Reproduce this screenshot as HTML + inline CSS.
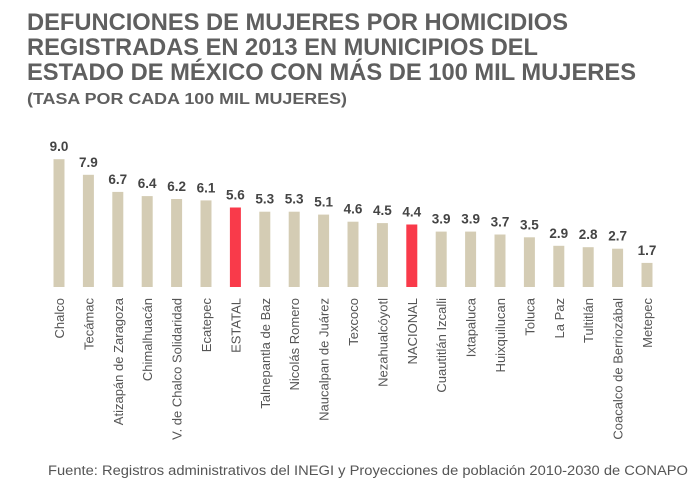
<!DOCTYPE html>
<html><head><meta charset="utf-8"><style>
body{margin:0;background:#fff;}
svg{display:block;font-family:"Liberation Sans",sans-serif;}
</style></head><body>
<svg width="700" height="499" viewBox="0 0 700 499" xmlns="http://www.w3.org/2000/svg">
<g fill="#5f5f5f" font-weight="bold">
<text x="27" y="30" font-size="24" textLength="541" lengthAdjust="spacingAndGlyphs">DEFUNCIONES DE MUJERES POR HOMICIDIOS</text>
<text x="27" y="55" font-size="24" textLength="511" lengthAdjust="spacingAndGlyphs">REGISTRADAS EN 2013 EN MUNICIPIOS DEL</text>
<text x="27" y="80" font-size="24" textLength="609" lengthAdjust="spacingAndGlyphs">ESTADO DE MÉXICO CON MÁS DE 100 MIL MUJERES</text>
<text x="27" y="104" font-size="16" textLength="320" lengthAdjust="spacingAndGlyphs">(TASA POR CADA 100 MIL MUJERES)</text>
</g>
<g fill="#d4ccb4">
<rect x="53.5" y="159.2" width="11" height="127.8"/>
<rect x="82.9" y="174.8" width="11" height="112.2"/>
<rect x="112.3" y="191.9" width="11" height="95.1"/>
<rect x="141.7" y="196.1" width="11" height="90.9"/>
<rect x="171.1" y="199" width="11" height="88"/>
<rect x="200.5" y="200.4" width="11" height="86.6"/>
<rect x="229.9" y="207.5" width="11" height="79.5" fill="#f93a4a"/>
<rect x="259.3" y="211.7" width="11" height="75.3"/>
<rect x="288.7" y="211.7" width="11" height="75.3"/>
<rect x="318.1" y="214.6" width="11" height="72.4"/>
<rect x="347.5" y="221.7" width="11" height="65.3"/>
<rect x="376.9" y="223.1" width="11" height="63.9"/>
<rect x="406.3" y="224.5" width="11" height="62.5" fill="#f93a4a"/>
<rect x="435.7" y="231.6" width="11" height="55.4"/>
<rect x="465.1" y="231.6" width="11" height="55.4"/>
<rect x="494.5" y="234.5" width="11" height="52.5"/>
<rect x="523.9" y="237.3" width="11" height="49.7"/>
<rect x="553.3" y="245.8" width="11" height="41.2"/>
<rect x="582.7" y="247.2" width="11" height="39.8"/>
<rect x="612.1" y="248.7" width="11" height="38.3"/>
<rect x="641.5" y="262.9" width="11" height="24.1"/>
</g>
<g font-size="13.5" font-weight="bold" fill="#444" text-anchor="middle">
<text x="59" y="151.2">9.0</text>
<text x="88.4" y="166.8">7.9</text>
<text x="117.8" y="183.9">6.7</text>
<text x="147.2" y="188.1">6.4</text>
<text x="176.6" y="191">6.2</text>
<text x="206" y="192.4">6.1</text>
<text x="235.4" y="199.5">5.6</text>
<text x="264.8" y="203.7">5.3</text>
<text x="294.2" y="203.7">5.3</text>
<text x="323.6" y="206.6">5.1</text>
<text x="353" y="213.7">4.6</text>
<text x="382.4" y="215.1">4.5</text>
<text x="411.8" y="216.5">4.4</text>
<text x="441.2" y="223.6">3.9</text>
<text x="470.6" y="223.6">3.9</text>
<text x="500" y="226.5">3.7</text>
<text x="529.4" y="229.3">3.5</text>
<text x="558.8" y="237.8">2.9</text>
<text x="588.2" y="239.2">2.8</text>
<text x="617.6" y="240.7">2.7</text>
<text x="647" y="254.9">1.7</text>
</g>
<g font-size="13" fill="#555" text-anchor="end">
<text transform="translate(64,298) rotate(-90)">Chalco</text>
<text transform="translate(93.4,298) rotate(-90)">Tecámac</text>
<text transform="translate(122.8,298) rotate(-90)">Atizapán de Zaragoza</text>
<text transform="translate(152.2,298) rotate(-90)">Chimalhuacán</text>
<text transform="translate(181.6,298) rotate(-90)">V. de Chalco Solidaridad</text>
<text transform="translate(211,298) rotate(-90)">Ecatepec</text>
<text transform="translate(240.4,298) rotate(-90)">ESTATAL</text>
<text transform="translate(269.8,298) rotate(-90)">Talnepantla de Baz</text>
<text transform="translate(299.2,298) rotate(-90)">Nicolás Romero</text>
<text transform="translate(328.6,298) rotate(-90)">Naucalpan de Juárez</text>
<text transform="translate(358,298) rotate(-90)">Texcoco</text>
<text transform="translate(387.4,298) rotate(-90)">Nezahualcóyotl</text>
<text transform="translate(416.8,298) rotate(-90)">NACIONAL</text>
<text transform="translate(446.2,298) rotate(-90)">Cuautitlán Izcalli</text>
<text transform="translate(475.6,298) rotate(-90)">Ixtapaluca</text>
<text transform="translate(505,298) rotate(-90)">Huixquilucan</text>
<text transform="translate(534.4,298) rotate(-90)">Toluca</text>
<text transform="translate(563.8,298) rotate(-90)">La Paz</text>
<text transform="translate(593.2,298) rotate(-90)">Tultitlán</text>
<text transform="translate(622.6,298) rotate(-90)">Coacalco de Berriozábal</text>
<text transform="translate(652,298) rotate(-90)">Metepec</text>
</g>
<text x="688" y="475" font-size="13.5" fill="#555" text-anchor="end" textLength="640" lengthAdjust="spacingAndGlyphs">Fuente: Registros administrativos del INEGI y Proyecciones de población 2010-2030 de CONAPO</text>
</svg>
</body></html>
